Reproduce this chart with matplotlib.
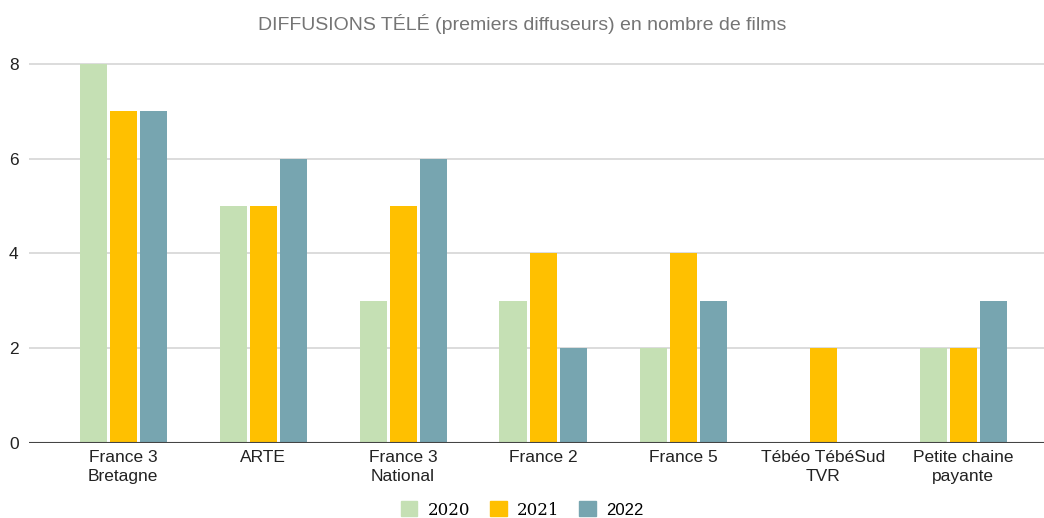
import numpy as np
import matplotlib.pyplot as plt
from matplotlib.patches import Patch

plt.rcParams['font.family'] = ['Liberation Sans', 'DejaVu Sans']

categories = ['France 3\nBretagne', 'ARTE', 'France 3\nNational', 'France 2',
              'France 5', 'Tébéo TébéSud\nTVR', 'Petite chaine\npayante']
years = ['2020', '2021', '2022']
v2020 = [8, 5, 3, 3, 2, 0, 2]
v2021 = [7, 5, 5, 4, 4, 2, 2]
v2022 = [7, 6, 6, 2, 3, 0, 3]
colors = ['#c5e0b4', '#ffc000', '#77a5b0']

fig = plt.figure(figsize=(10.44, 5.18), dpi=100)
ax = fig.add_axes([29 / 1044, 75 / 518, 1015 / 1044, 380 / 518])

x = np.arange(len(categories))
w = 27 / 140
step = 30 / 140
for i, vals in enumerate([v2020, v2021, v2022]):
    ax.bar(x + (i - 1) * step, vals, width=w, color=colors[i], zorder=3)

ax.set_xlim(-0.5 - 24 / 140, 6.5 + 11 / 140)
ax.set_ylim(0, 8.02)
ax.set_yticks([0, 2, 4, 6, 8])
ax.yaxis.grid(True, color='#d6d6d6', lw=1.2, zorder=0)
ax.axhline(0, color='#444444', lw=1.5, zorder=4)
for s in ax.spines.values():
    s.set_visible(False)
ax.tick_params(axis='both', length=0, labelsize=12.5, colors='#222222')
ax.tick_params(axis='x', pad=5)
ax.set_xticks(x)
ax.set_xticklabels(categories, linespacing=1.35)
for t in ax.get_yticklabels():
    t.set_horizontalalignment('left')
    t.set_x(-20 / 1015)
ax.tick_params(axis='y', pad=0)

fig.text(0.5, 1 - 24 / 518, 'DIFFUSIONS TÉLÉ (premiers diffuseurs) en nombre de films',
         ha='center', va='center', fontsize=14, color='#757575')

handles = [Patch(color=c) for c in colors]
leg = fig.legend(handles, years, loc='center', bbox_to_anchor=(0.5, 1 - 510 / 518),
                 ncol=3, frameon=False, fontsize=12, handlelength=1.0, handleheight=1.0,
                 columnspacing=1.2, handletextpad=0.6)
for t in leg.get_texts()[:2]:
    t.set_family('serif')

fig.savefig('out.png', dpi=100)
